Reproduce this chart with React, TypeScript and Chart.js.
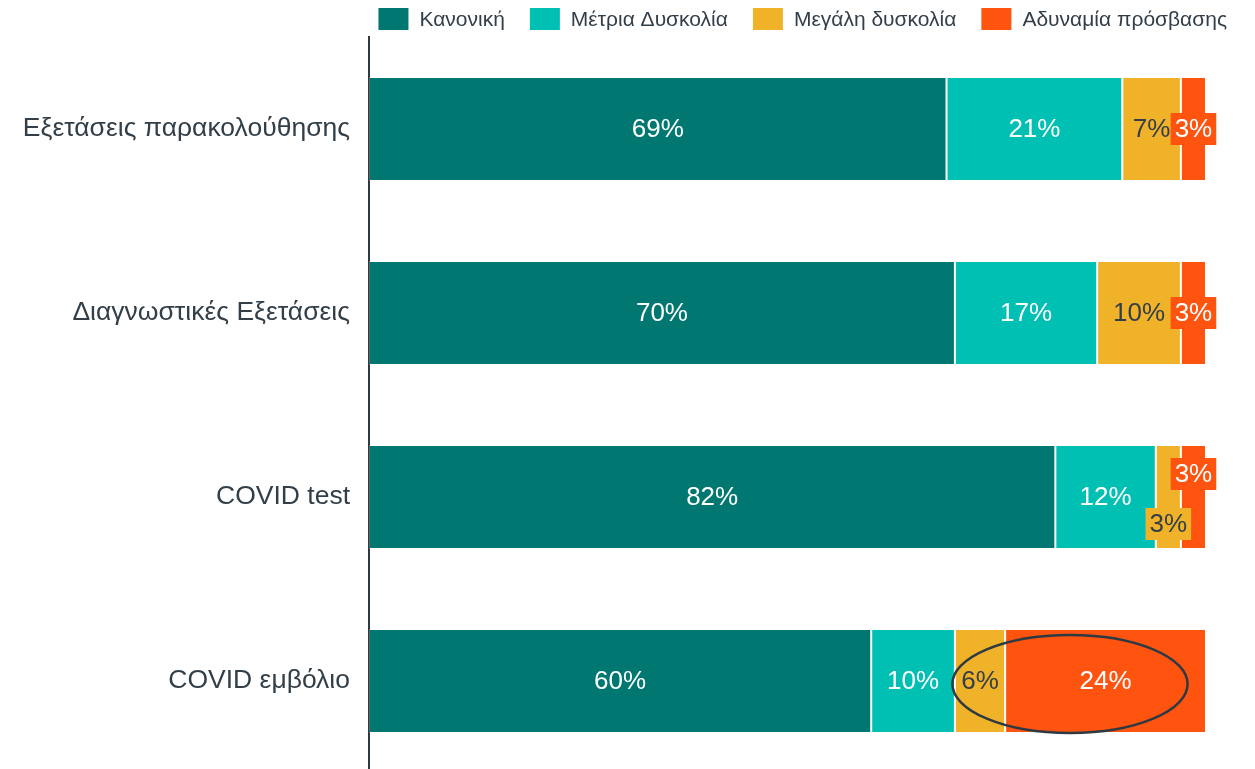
import React, { useEffect, useRef } from "react";
import { Chart, registerables } from "chart.js";

Chart.register(...registerables);

const CATEGORIES = [
  "Εξετάσεις παρακολούθησης",
  "Διαγνωστικές Εξετάσεις",
  "COVID test",
  "COVID εμβόλιο",
];
const SERIES_NAMES = ["Κανονική", "Μέτρια Δυσκολία", "Μεγάλη δυσκολία", "Αδυναμία πρόσβασης"];
const NORMAL = [69, 70, 82, 60];
const MODERATE = [21, 17, 12, 10];
const GREAT = [7, 10, 3, 6];
const NO_ACCESS = [3, 3, 3, 24];

const COLORS = ["#007770", "#00bfb3", "#f0b229", "#ff5310"];
const LABEL_COLORS = ["#ffffff", "#ffffff", "#333f48", "#ffffff"];
const TEXT_COLOR = "#333f48";
const FONT = "'Liberation Sans', Arial, sans-serif";

// vertical nudges (px) of individual value labels: key = "dataset-index"
const LABEL_SHIFT: Record<string, number> = { "2-2": 27, "3-2": -23 };
// highlighted region (value range on the x scale, category index)
const HIGHLIGHT = { index: 3, from: 69.7, to: 97.8 };

const W = 1255;
const H = 773;

const valueLabels = {
  id: "valueLabels",
  afterDatasetsDraw(chart: any) {
    const ctx = chart.ctx;
    ctx.save();
    ctx.font = `26px ${FONT}`;
    ctx.textAlign = "center";
    ctx.textBaseline = "middle";
    chart.data.datasets.forEach((ds: any, di: number) => {
      const meta = chart.getDatasetMeta(di);
      meta.data.forEach((bar: any, i: number) => {
        const v = ds.data[i];
        const text = `${v}%`;
        const x = (bar.x + bar.base) / 2;
        const y = bar.y + (LABEL_SHIFT[`${di}-${i}`] || 0);
        const tw = ctx.measureText(text).width;
        const segW = Math.abs(bar.x - bar.base);
        if (tw + 4 > segW) {
          ctx.fillStyle = COLORS[di];
          ctx.fillRect(x - tw / 2 - 4, y - 16, tw + 8, 32);
        }
        ctx.fillStyle = LABEL_COLORS[di];
        ctx.fillText(text, x, y + 1);
      });
    });
    // highlight ellipse
    const xs = chart.scales.x;
    const bar = chart.getDatasetMeta(0).data[HIGHLIGHT.index];
    const x1 = xs.getPixelForValue(HIGHLIGHT.from);
    const x2 = xs.getPixelForValue(HIGHLIGHT.to);
    ctx.beginPath();
    ctx.ellipse((x1 + x2) / 2, bar.y + 3, (x2 - x1) / 2, 49, 0, 0, Math.PI * 2);
    ctx.lineWidth = 2.5;
    ctx.strokeStyle = "#2e3a42";
    ctx.stroke();
    ctx.restore();
  },
};

const customLegend = {
  id: "customLegend",
  afterDraw(chart: any) {
    const ctx = chart.ctx;
    ctx.save();
    ctx.font = `21px ${FONT}`;
    ctx.textBaseline = "middle";
    ctx.textAlign = "left";
    const boxW = 30, boxH = 22, gapText = 11, gapItem = 25;
    const widths = chart.data.datasets.map((d: any) => ctx.measureText(d.label).width);
    const total = widths.reduce((a: number, w: number) => a + boxW + gapText + w, 0) + gapItem * (widths.length - 1);
    let x = chart.chartArea.right + 21 - total;
    const top = 8;
    chart.data.datasets.forEach((d: any, i: number) => {
      ctx.fillStyle = d.backgroundColor;
      ctx.fillRect(x, top, boxW, boxH);
      ctx.fillStyle = TEXT_COLOR;
      ctx.fillText(d.label, x + boxW + gapText, top + boxH / 2 + 1);
      x += boxW + gapText + widths[i] + gapItem;
    });
    ctx.restore();
  },
};

export default function App() {
  const ref = useRef<HTMLCanvasElement>(null);
  useEffect(() => {
    const series = [NORMAL, MODERATE, GREAT, NO_ACCESS];
    const chart = new Chart(ref.current as HTMLCanvasElement, {
      type: "bar",
      data: {
        labels: CATEGORIES,
        datasets: series.map((d, i) => ({
          label: SERIES_NAMES[i],
          data: d,
          backgroundColor: COLORS[i],
          borderColor: "rgba(255,255,255,0.22)",
          borderWidth: 1,
          borderSkipped: false,
          categoryPercentage: 1,
          barPercentage: 0.565,
        })),
      },
      options: {
        indexAxis: "y",
        animation: false,
        responsive: false,
        maintainAspectRatio: false,
        devicePixelRatio: 1,
        layout: { padding: { top: 37, right: 49, left: 0, bottom: 0 } },
        plugins: { legend: { display: false }, tooltip: { enabled: false } },
        scales: {
          x: { stacked: true, min: 0, max: 100, display: false },
          y: {
            stacked: true,
            grid: { display: false },
            border: { display: true, color: "#2e3a42", width: 2 },
            ticks: { color: TEXT_COLOR, font: { size: 26.5, family: FONT }, padding: 11 },
            afterFit: (s: any) => {
              s.width = 369;
              s.paddingTop = 0;
              s.paddingBottom = 0;
            },
          },
        },
      },
      plugins: [valueLabels, customLegend],
    } as any);
    return () => chart.destroy();
  }, []);
  return (
    <div style={{ position: "fixed", left: 0, top: 0, width: W, height: H, background: "#fff" }}>
      <canvas ref={ref} width={W} height={H} style={{ display: "block", width: W, height: H }} />
    </div>
  );
}
